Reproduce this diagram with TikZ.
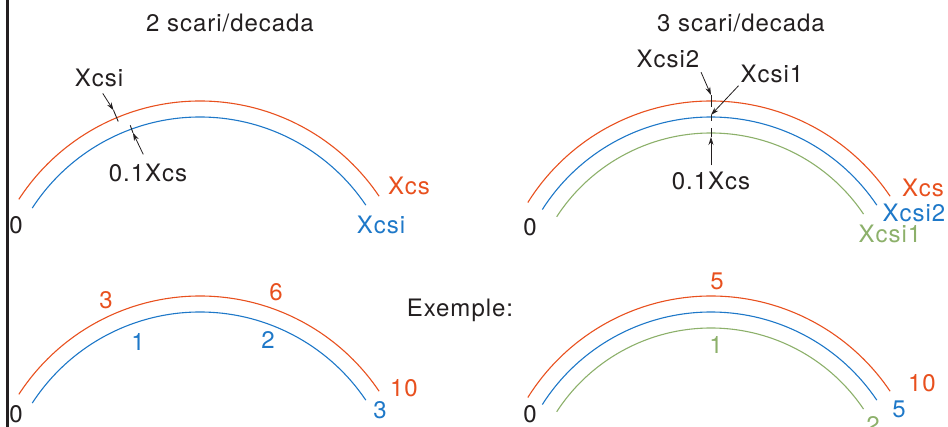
\documentclass[tikz,border=0pt]{standalone}
\usepackage{fontspec}
\setmainfont{TeX Gyre Heros}[LetterSpace=4]
\usetikzlibrary{arrows.meta,calc}

\definecolor{arcred}{HTML}{E8501E}
\definecolor{arcblue}{HTML}{1E78C8}
\definecolor{arcgreen}{HTML}{8CB06A}
\definecolor{inkgray}{HTML}{231F20}

\begin{document}
\begin{tikzpicture}[
    x=1pt, y=1pt,
    font=\fontsize{24}{28}\selectfont,
    lbl/.style={inner sep=0pt, anchor=base, text=inkgray},
    arcline/.style={line width=1.1pt},
    tick/.style={line width=0.9pt, inkgray},
    pointer/.style={-{Stealth[length=8pt,width=5pt]}, line width=0.8pt, inkgray}
]
\useasboundingbox (0,0) rectangle (948,427);

% Frame line
\draw[line width=2.6pt, inkgray] (7.5,0) -- (7.5,427);

% Centres of the arcs
\coordinate (cA) at (200,110);
\coordinate (cB) at (711,110);
\coordinate (cC) at (200,-85);
\coordinate (cD) at (711,-85);

% Titles
\node[lbl] (titleA) at (230,395) {2 scari/decada};
\node[lbl] (titleB) at (741,395) {3 scari/decada};

% 2 scari/decada
\draw[arcline, arcred] ($(cA)+(147:216)$) arc[start angle=147, end angle=34, radius=216];
\draw[arcline, arcblue] ($(cA)+(147:200)$) arc[start angle=147, end angle=34, radius=200];
\coordinate (tA1) at ($(cA)+(112.7:224)$);
\coordinate (tA2) at ($(cA)+(112.7:212)$);
\coordinate (tA3) at ($(cA)+(110:204)$);
\coordinate (tA4) at ($(cA)+(110:196)$);
\draw[tick] (tA1) -- (tA2);
\draw[tick] (tA3) -- (tA4);
\node[lbl] (xA) at (99,340) {Xcsi};
\node[lbl] (kA) at (148,245) {0.1Xcs};
\node[lbl, text=arcred] (xcsA) at (409,232) {Xcs};
\node[lbl, text=arcblue] (xiA) at (381,193) {Xcsi};
\node[lbl] (zeroA) at (16,193) {0};
\draw[pointer, shorten <=7pt] (xA.south) -- (tA1);
\draw[pointer, shorten <=11pt] (kA.north) -- (tA4);

% 3 scari/decada
\draw[arcline, arcred] ($(cB)+(148:216)$) arc[start angle=148, end angle=34, radius=216];
\draw[arcline, arcblue] ($(cB)+(147.5:200)$) arc[start angle=147.5, end angle=34, radius=200];
\draw[arcline, arcgreen] ($(cB)+(147:184)$) arc[start angle=147, end angle=34, radius=184];
\coordinate (tB1) at ($(cB)+(90:222)$);
\coordinate (tB2) at ($(cB)+(90:210)$);
\coordinate (tB3) at ($(cB)+(90:202)$);
\coordinate (tB4) at ($(cB)+(90:196)$);
\coordinate (tB5) at ($(cB)+(90:189)$);
\coordinate (tB6) at ($(cB)+(90:180)$);
\draw[tick] (tB1) -- (tB2);
\draw[tick] (tB3) -- (tB4);
\draw[tick] (tB5) -- (tB6);
\node[lbl] (xB2) at (668,359) {Xcsi2};
\node[lbl] (xB1) at (772,344) {Xcsi1};
\node[lbl] (kB) at (711,237) {0.1Xcs};
\node[lbl, text=arcred] (xcsB) at (923,230) {Xcs};
\node[lbl, text=arcblue] (xi2B) at (914,205) {Xcsi2};
\node[lbl, text=arcgreen] (xi1B) at (890,184) {Xcsi1};
\node[lbl] (zeroB) at (530,191) {0};
\draw[pointer, shorten <=4pt] (xB2.south east) -- (tB1);
\draw[pointer, shorten <=3pt] (xB1.south west) -- (tB3);
\draw[pointer, shorten <=7pt] (kB.north) -- (tB6);

% Exemple
\node[lbl] (ex) at (460,110) {Exemple:};

% Exemple, 2 scari/decada
\draw[arcline, arcred] ($(cC)+(147:216)$) arc[start angle=147, end angle=34, radius=216];
\draw[arcline, arcblue] ($(cC)+(147:200)$) arc[start angle=147, end angle=34, radius=200];
\node[lbl, text=arcred] (rC3) at (106,118) {3};
\node[lbl, text=arcred] (rC6) at (276,126) {6};
\node[lbl, text=arcblue] (bC1) at (138,76) {1};
\node[lbl, text=arcblue] (bC2) at (268,78) {2};
\node[lbl, text=arcred] (rC10) at (404,30) {10};
\node[lbl, text=arcblue] (bC3) at (380,8) {3};
\node[lbl] (zeroC) at (16,4.5) {0};

% Exemple, 3 scari/decada
\draw[arcline, arcred] ($(cD)+(148:216)$) arc[start angle=148, end angle=34, radius=216];
\draw[arcline, arcblue] ($(cD)+(147.5:200)$) arc[start angle=147.5, end angle=34, radius=200];
\draw[arcline, arcgreen] ($(cD)+(147:184)$) arc[start angle=147, end angle=34, radius=184];
\node[lbl, text=arcred] (rD5) at (717,137) {5};
\node[lbl, text=arcgreen] (gD1) at (716,73) {1};
\node[lbl, text=arcred] (rD10) at (922,35) {10};
\node[lbl, text=arcblue] (bD5) at (899,9) {5};
\node[lbl, text=arcgreen] (gD2) at (873,-7) {2};
\node[lbl] (zeroD) at (530,4.5) {0};

\end{tikzpicture}
\end{document}
